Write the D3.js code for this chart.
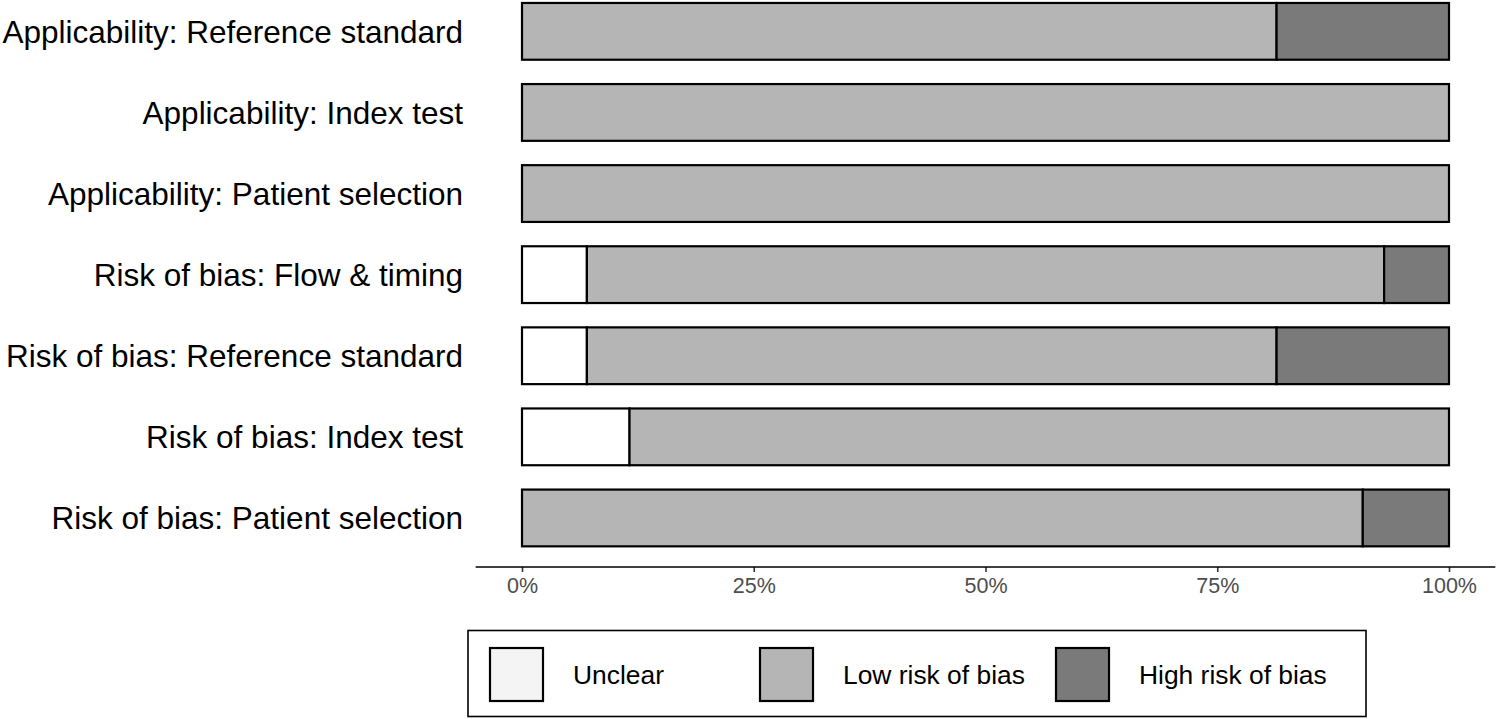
<!DOCTYPE html>
<html>
<head>
<meta charset="utf-8">
<script src="https://cdn.jsdelivr.net/npm/d3@7"></script>
<style>
  html, body { margin: 0; padding: 0; background: #fff; }
  svg { display: block; font-family: "Liberation Sans", Arial, Helvetica, sans-serif; }
</style>
</head>
<body>
<svg id="chart" width="1497" height="719"></svg>
<script>
// ---- Data ----
const domains = [
  "Applicability: Reference standard",
  "Applicability: Index test",
  "Applicability: Patient selection",
  "Risk of bias: Flow & timing",
  "Risk of bias: Reference standard",
  "Risk of bias: Index test",
  "Risk of bias: Patient selection"
];
const categories = ["Unclear", "Low risk of bias", "High risk of bias"];
const unclearPct = [0, 0, 0, 7.0, 7.0, 11.6, 0];
const lowPct     = [81.4, 100, 100, 86.0, 74.4, 88.4, 90.7];
const highPct    = [18.6, 0, 0, 7.0, 18.6, 0, 9.3];
const xTicks = [0, 25, 50, 75, 100];
const barColors = ["#ffffff", "#b5b5b5", "#7a7a7a"];
const legendColors = ["#f4f4f4", "#b5b5b5", "#7a7a7a"];

// ---- Build stacked table ----
const rows = domains.map((d, i) => ({
  domain: d,
  "Unclear": unclearPct[i],
  "Low risk of bias": lowPct[i],
  "High risk of bias": highPct[i]
}));
const stacked = d3.stack().keys(categories)(rows);

const svg = d3.select("#chart");

const x = d3.scaleLinear().domain([0, 100]).range([522, 1449]);
const y = d3.scaleBand().domain(domains).range([-9.2, 558.5])
  .paddingInner(0.3).paddingOuter(0.15);

// Bars
stacked.forEach((layer, li) => {
  svg.append("g")
    .selectAll("rect")
    .data(layer.filter(s => s[1] - s[0] > 0))
    .join("rect")
    .attr("x", s => x(s[0]))
    .attr("y", s => y(s.data.domain))
    .attr("width", s => x(s[1]) - x(s[0]))
    .attr("height", y.bandwidth())
    .attr("fill", barColors[li])
    .attr("stroke", "#000")
    .attr("stroke-width", 2.2);
});

// Y labels
svg.append("g")
  .selectAll("text")
  .data(domains)
  .join("text")
  .attr("x", 463)
  .attr("y", d => y(d) + y.bandwidth() / 2)
  .attr("dy", "0.36em")
  .attr("text-anchor", "end")
  .attr("font-size", 31.5)
  .attr("fill", "#000")
  .text(d => d);

// X axis
const axisY = 567;
const xAxis = d3.axisBottom(x)
  .tickValues(xTicks)
  .tickFormat(d => d + "%")
  .tickSize(5)
  .tickPadding(6);
const gx = svg.append("g").attr("transform", `translate(0,${axisY})`).call(xAxis);
gx.select(".domain").remove();
gx.append("line")
  .attr("x1", x(-5)).attr("x2", x(105))
  .attr("y1", 0).attr("y2", 0)
  .attr("stroke", "#000").attr("stroke-width", 1.6);
gx.selectAll(".tick line").attr("stroke", "#333").attr("stroke-width", 1.6);
gx.selectAll(".tick text")
  .attr("font-size", 21.5)
  .attr("fill", "#4d4d4d")
  .attr("font-family", "\"Liberation Sans\", Arial, Helvetica, sans-serif");

// Legend
const lg = svg.append("g");
lg.append("rect")
  .attr("x", 468).attr("y", 630.5)
  .attr("width", 898).attr("height", 86)
  .attr("fill", "#fff").attr("stroke", "#000").attr("stroke-width", 1.6);
const keyX = [490, 760, 1056];
categories.forEach((c, i) => {
  lg.append("rect")
    .attr("x", keyX[i]).attr("y", 648)
    .attr("width", 53).attr("height", 53)
    .attr("fill", legendColors[i])
    .attr("stroke", "#000").attr("stroke-width", 2.2);
  lg.append("text")
    .attr("x", keyX[i] + 83)
    .attr("y", 684)
    .attr("font-size", 26.4)
    .attr("fill", "#000")
    .text(c);
});
</script>
</body>
</html>
